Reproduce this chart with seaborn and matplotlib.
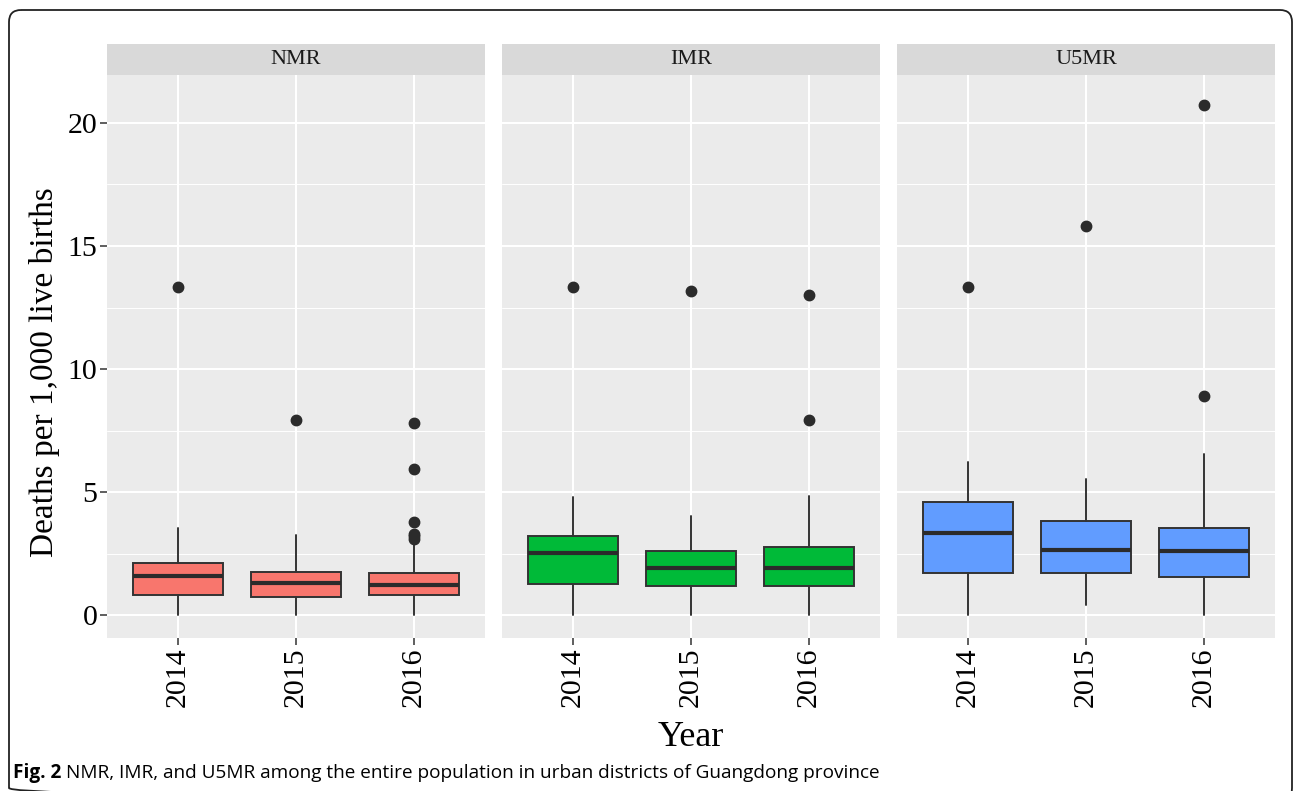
import matplotlib
matplotlib.use("Agg")
import matplotlib.pyplot as plt
from matplotlib.patches import Rectangle, FancyBboxPatch
import seaborn as sns
import pandas as pd

rates = ["NMR", "IMR", "U5MR"]
years = ["2014", "2015", "2016"]
colors = ["#F8766D", "#00BA38", "#619CFF"]

# box stats, one list per rate, one value per year
whislo = {"NMR": [0, 0, 0], "IMR": [0, 0, 0], "U5MR": [0, 0.41, 0]}
q1 = {"NMR": [0.83, 0.75, 0.83], "IMR": [1.28, 1.20, 1.20], "U5MR": [1.70, 1.70, 1.53]}
med = {"NMR": [1.58, 1.32, 1.23], "IMR": [2.51, 1.91, 1.91], "U5MR": [3.35, 2.66, 2.59]}
q3 = {"NMR": [2.13, 1.77, 1.70], "IMR": [3.23, 2.62, 2.78], "U5MR": [4.59, 3.83, 3.56]}
whishi = {"NMR": [3.53, 3.26, 2.95], "IMR": [4.78, 4.01, 4.86], "U5MR": [6.21, 5.53, 6.54]}
fliers = {
    "NMR": [[13.35], [7.92], [3.1, 3.2, 3.3, 3.8, 5.94, 7.82]],
    "IMR": [[13.35], [13.17], [13.0, 7.92]],
    "U5MR": [[13.35], [15.82], [20.75, 8.92]],
}

rows = []
for r in rates:
    for i, y in enumerate(years):
        rows.append({"rate": r, "year": y, "pos": i, "whislo": whislo[r][i], "q1": q1[r][i],
                     "med": med[r][i], "q3": q3[r][i], "whishi": whishi[r][i],
                     "fliers": fliers[r][i]})
df = pd.DataFrame(rows)

sns.set_theme(style="darkgrid")
plt.rcParams["font.family"] = ["Liberation Serif", "DejaVu Serif"]
plt.rcParams.update({
    "text.color": "black",
    "xtick.bottom": True, "ytick.left": True,
    "xtick.major.size": 5, "ytick.major.size": 5,
    "xtick.major.width": 1.1, "ytick.major.width": 1.1,
    "xtick.color": "#333333", "ytick.color": "#333333",
    "xtick.labelcolor": "black", "ytick.labelcolor": "black",
    "xtick.direction": "out", "ytick.direction": "out",
})

W, H = 1295, 791
g = sns.FacetGrid(df, col="rate", col_order=rates, sharey=True, sharex=True,
                  height=H / 100, aspect=(W / 3) / H)
g.fig.set_size_inches(W / 100, H / 100)
g.fig.patch.set_facecolor("white")


def draw_boxes(data, color=None, **kw):
    ax = plt.gca()
    rate = data["rate"].iloc[0]
    fc = colors[rates.index(rate)]
    stats = []
    for _, row in data.iterrows():
        stats.append({"whislo": row["whislo"], "q1": row["q1"], "med": row["med"],
                      "q3": row["q3"], "whishi": row["whishi"], "fliers": row["fliers"]})
    ax.bxp(stats, positions=list(data["pos"]), widths=0.76, patch_artist=True,
           showcaps=False,
           boxprops=dict(facecolor=fc, edgecolor="#333333", linewidth=1.4),
           medianprops=dict(color="#2b2b2b", linewidth=3),
           whiskerprops=dict(color="#333333", linewidth=1.4),
           flierprops=dict(marker="o", markerfacecolor="#2b2b2b", markeredgecolor="#2b2b2b",
                           markersize=7.5))


g.map_dataframe(draw_boxes)

g.fig.subplots_adjust(left=107 / W, right=1275 / W, bottom=1 - 638 / H, top=1 - 75 / H,
                      wspace=17 / 378)

ax_h = 638 - 75
for ax, r in zip(g.axes.flat, rates):
    ax.set_facecolor("#EBEBEB")
    ax.set_xlim(-0.6, 2.6)
    ax.set_ylim(-0.93, 21.95)
    ax.set_xticks(range(len(years)))
    ax.set_xticklabels(years, rotation=90, fontsize=21.5, color="black")
    ax.set_yticks([0, 5, 10, 15, 20])
    ax.set_yticks([2.5, 7.5, 12.5, 17.5], minor=True)
    ax.grid(True, which="major", color="white", linewidth=1.5)
    ax.grid(True, which="minor", axis="y", color="white", linewidth=0.7)
    ax.grid(False, which="minor", axis="x")
    ax.set_axisbelow(True)
    ax.tick_params(axis="both", which="major", length=5, width=1.1, color="#333333",
                   labelsize=21.5, labelcolor="black", pad=2, bottom=True, left=True,
                   direction="out")
    ax.tick_params(axis="y", which="minor", length=0)
    for s in ax.spines.values():
        s.set_visible(False)
    ax.set_title("")
    ax.set_xlabel("")
    ax.set_ylabel("")
    # facet strip
    sh = 31 / ax_h
    ax.add_patch(Rectangle((0, 1), 1, sh, transform=ax.transAxes, facecolor="#D9D9D9",
                           edgecolor="none", clip_on=False))
    ax.text(0.5, 1 + sh / 2, r, transform=ax.transAxes, ha="center", va="center",
            fontsize=16, color="#1a1a1a")

for ax in list(g.axes.flat)[1:]:
    ax.tick_params(axis="y", left=False, labelleft=False)

g.fig.text(45 / W, 1 - 372 / H, "Deaths per 1,000 live births", rotation=90,
           ha="center", va="center", fontsize=24)
g.fig.text(691 / W, 1 - 738 / H, "Year", ha="center", va="center", fontsize=26)

# border and caption
bg = g.fig.add_axes([0, 0, 1, 1], zorder=-1)
bg.set_xlim(0, W)
bg.set_ylim(H, 0)
bg.axis("off")
bg.add_patch(FancyBboxPatch((9, 10), 1283, 790, boxstyle="round,pad=0,rounding_size=12",
                            facecolor="none", edgecolor="#222222", linewidth=1.3))

cap_font = ["Open Sans", "DejaVu Sans"]
t1 = g.fig.text(13 / W, 1 - 773 / H, "Fig. 2", fontsize=13.7, fontweight="bold",
                family=cap_font, ha="left", va="center", color="black")
g.fig.canvas.draw()
ext = t1.get_window_extent()
g.fig.text((ext.x1 + 5) / W, 1 - 773 / H,
           "NMR, IMR, and U5MR among the entire population in urban districts of Guangdong province",
           fontsize=13.7, family=cap_font, ha="left", va="center", color="black")

g.fig.savefig("out.png", dpi=100)
